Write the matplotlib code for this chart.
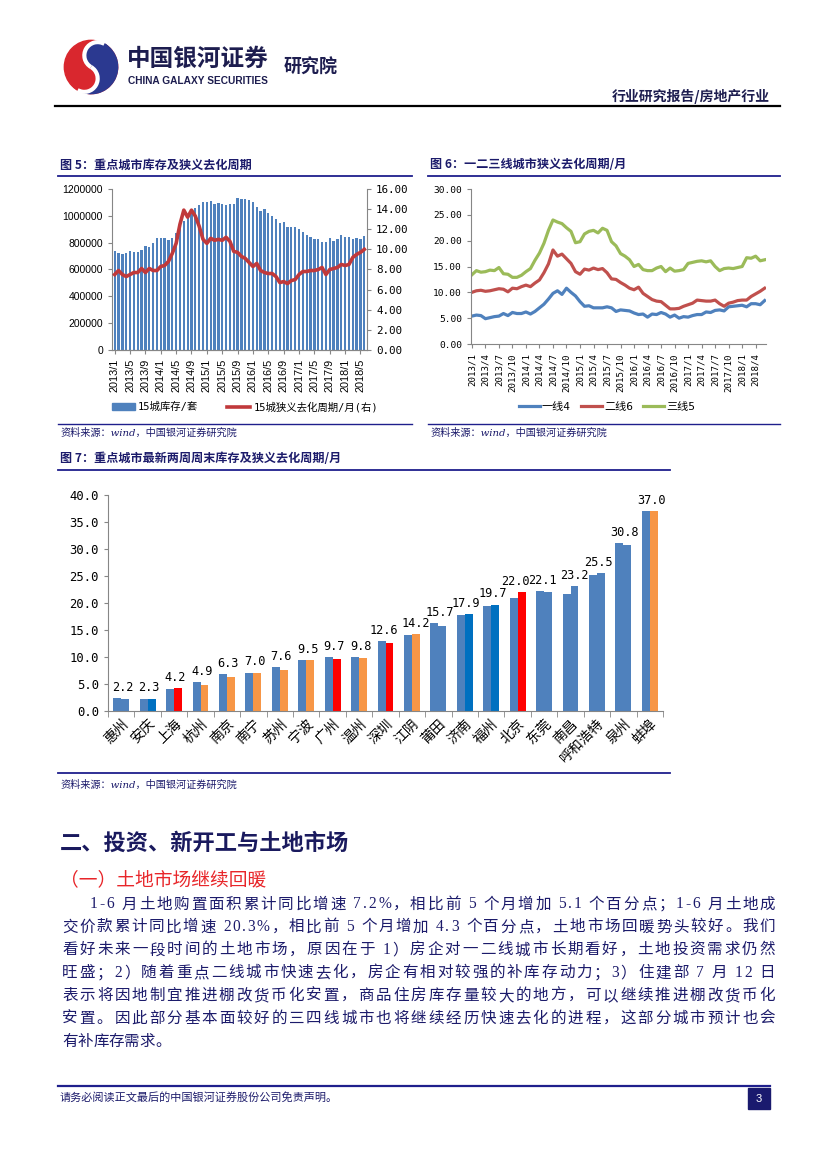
import matplotlib
matplotlib.use('Agg')
import matplotlib.pyplot as plt
from matplotlib.lines import Line2D
from matplotlib.patches import Rectangle, Wedge, Circle, Arc, Patch
from matplotlib.font_manager import FontProperties, findfont, get_font
import numpy as np

W, H = 827, 1169
CJK = 'Noto Sans CJK SC'
MONO = 'DejaVu Sans Mono'
NAVY = '#1c1b6b'
GRAY = '#868686'
BAR_BLUE = '#4f81bd'

# -----------------------------------------
# DATOS
# -----------------------------------------

# fig 5: 15 cities inventory (sets) and narrow destocking cycle (months)
months5 = [f'{y}/{m}' for y in range(2013, 2019) for m in range(1, 13)][:66]
inventory5 = [
    735000, 720000, 712000, 725000, 738000, 730000, 730000, 745000, 775000, 770000, 800000, 835000,
    835000, 835000, 820000, 835000, 870000, 915000, 960000, 1000000, 1040000, 1060000, 1080000, 1100000,
    1105000, 1108000, 1090000, 1095000, 1090000, 1080000, 1088000, 1085000, 1135000, 1128000, 1125000, 1118000,
    1100000, 1065000, 1035000, 1050000, 1020000, 1000000, 975000, 950000, 955000, 915000, 920000, 915000,
    905000, 880000, 855000, 840000, 825000, 825000, 805000, 805000, 835000, 815000, 830000, 855000,
    840000, 840000, 825000, 835000, 825000, 848000,
]
cycle5 = [
    7.5, 7.9, 7.5, 7.3, 7.5, 7.7, 7.7, 8.1, 7.7, 8.1, 7.9, 7.9,
    8.3, 8.4, 8.8, 9.6, 10.6, 12.5, 13.9, 13.2, 13.9, 13.3, 12.3, 11.0,
    10.6, 11.1, 10.9, 11.0, 10.9, 11.2, 10.8, 9.8, 9.7, 9.3, 9.1, 8.7,
    8.3, 8.6, 7.9, 7.7, 7.6, 7.6, 7.3, 6.7, 6.8, 6.6, 6.9, 7.0,
    7.5, 7.8, 7.8, 7.9, 7.9, 8.0, 8.2, 7.5, 8.0, 8.1, 8.2, 8.5,
    8.4, 8.5, 9.2, 9.5, 9.7, 10.0,
]

# fig 6: tier 1 / 2 / 3 cities destocking cycle (months)
months6 = months5
tier1 = [
    5.4, 5.6, 5.5, 4.9, 5.1, 5.3, 5.4, 5.9, 5.5, 6.1, 5.9, 5.9,
    6.2, 5.8, 6.3, 7.0, 7.7, 8.7, 9.8, 10.3, 9.6, 10.8, 10.0, 9.3,
    8.2, 7.3, 7.4, 7.0, 7.0, 7.0, 7.2, 7.0, 6.3, 6.6, 6.5, 6.4,
    6.0, 5.7, 5.8, 5.2, 5.8, 5.7, 6.1, 5.8, 5.2, 5.6, 5.0, 5.3,
    5.2, 5.5, 5.7, 5.7, 6.2, 6.1, 6.5, 6.6, 6.4, 7.2, 7.3, 7.4,
    7.5, 7.2, 7.8, 7.8, 7.6, 8.4,
]
tier2 = [
    10.0, 10.3, 10.4, 10.2, 10.3, 10.5, 10.7, 10.6, 10.1, 10.8, 10.7, 11.1,
    11.4, 11.1, 11.8, 12.4, 13.8, 15.5, 18.2, 17.0, 17.4, 16.5, 15.6, 14.0,
    13.5, 14.5, 14.3, 14.7, 14.4, 14.6, 13.8, 12.6, 12.5, 11.9, 11.4, 10.8,
    10.5, 11.0, 9.8, 9.2, 8.6, 8.3, 8.2, 7.5, 6.8, 6.8, 6.9, 7.3,
    7.6, 7.9, 8.5, 8.4, 8.3, 8.3, 8.5, 7.8, 7.3, 7.9, 8.1, 8.4,
    8.5, 8.5, 9.2, 9.7, 10.2, 10.8,
]
tier3 = [
    13.4, 14.2, 13.9, 14.0, 14.3, 14.2, 14.8, 13.6, 13.5, 12.9, 12.9, 13.3,
    14.0, 14.6, 16.2, 17.6, 19.5, 22.0, 24.0, 23.6, 23.3, 22.5, 21.8, 19.6,
    19.8, 21.3, 21.8, 22.0, 21.5, 22.4, 22.0, 19.8, 19.0, 17.5, 17.0, 16.3,
    15.0, 15.4, 14.4, 14.2, 14.2, 14.7, 15.0, 14.0, 14.7, 14.1, 14.2, 14.4,
    15.6, 15.8, 16.0, 16.1, 15.9, 16.1, 15.0, 14.2, 14.6, 14.7, 14.6, 14.8,
    15.0, 16.7, 16.6, 17.0, 16.1, 16.3,
]
tier_names = ['一线4', '二线6', '三线5']

# fig 7: latest two weekends, destocking cycle (months)
cities = ['惠州', '安庆', '上海', '杭州', '南京', '南宁', '苏州', '宁波', '广州', '温州', '深圳',
          '江阴', '莆田', '济南', '福州', '北京', '东莞', '南昌', '呼和浩特', '泉州', '蚌埠']
prev_week = [2.4, 2.3, 4.1, 5.3, 6.8, 7.1, 8.1, 9.4, 10.0, 10.0, 12.9,
             14.1, 16.3, 17.8, 19.5, 20.9, 22.2, 21.7, 25.2, 31.1, 37.0]
last_week = [2.2, 2.3, 4.2, 4.9, 6.3, 7.0, 7.6, 9.5, 9.7, 9.8, 12.6,
             14.2, 15.7, 17.9, 19.7, 22.0, 22.1, 23.2, 25.5, 30.8, 37.0]
last_colors = [BAR_BLUE, '#0070c0', '#ff0000', '#f79646', '#f79646', '#f79646', '#f79646',
               '#f79646', '#ff0000', '#f79646', '#ff0000', '#f79646', BAR_BLUE, '#0070c0',
               '#0070c0', '#ff0000', BAR_BLUE, BAR_BLUE, BAR_BLUE, BAR_BLUE, '#f79646']

body_lines = [
    '1-6 月土地购置面积累计同比增速 7.2%，相比前 5 个月增加 5.1 个百分点；1-6 月土地成',
    '交价款累计同比增速 20.3%，相比前 5 个月增加 4.3 个百分点，土地市场回暖势头较好。我们',
    '看好未来一段时间的土地市场，原因在于 1）房企对一二线城市长期看好，土地投资需求仍然',
    '旺盛；2）随着重点二线城市快速去化，房企有相对较强的补库存动力；3）住建部 7 月 12 日',
    '表示将因地制宜推进棚改货币化安置，商品住房库存量较大的地方，可以继续推进棚改货币化',
    '安置。因此部分基本面较好的三四线城市也将继续经历快速去化的进程，这部分城市预计也会',
    '有补库存需求。',
]

# -----------------------------------------
# AYUDAS
# -----------------------------------------

fig = plt.figure(figsize=(W / 100, H / 100), dpi=100)


def fx(x):
    return x / W


def fy(y):
    return 1 - y / H


def px_axes(l, t, r, b):
    return fig.add_axes([l / W, 1 - b / H, (r - l) / W, (b - t) / H])


def hline(y, x0, x1, color, lw):
    fig.add_artist(Line2D([fx(x0), fx(x1)], [fy(y), fy(y)], color=color, lw=lw,
                          transform=fig.transFigure))


def ptext(x, y, s, **kw):
    kw.setdefault('va', 'center')
    return fig.text(fx(x), fy(y), s, **kw)


_fonts = {}


def char_family(ch):
    return 'Liberation Serif' if ord(ch) < 128 else CJK


def advance(ch, size):
    fam = char_family(ch)
    if fam not in _fonts:
        _fonts[fam] = get_font(findfont(FontProperties(family=fam)))
    f = _fonts[fam]
    f.set_size(size, 100)
    return f.load_char(ord(ch)).linearHoriAdvance / 65536


def body_line(text, x0, x1, y, size, justify=True):
    adv = [advance(c, size) for c in text]
    gap = (x1 - x0 - sum(adv)) / (len(text) - 1) if justify else 0
    x = x0
    for c, a in zip(text, adv):
        if c != ' ':
            ptext(x, y, c, fontsize=size, family=char_family(c), color=NAVY, ha='left')
        x += a + gap


def style_axis(ax):
    for s in ax.spines.values():
        s.set_color(GRAY)
    ax.spines['top'].set_visible(False)
    ax.tick_params(colors=GRAY, labelcolor='black', length=3, direction='out')


# -----------------------------------------
# CABECERA
# -----------------------------------------

logo = px_axes(63, 39, 119, 95)
logo.set_xlim(-1.05, 1.05)
logo.set_ylim(-1.05, 1.05)
logo.set_aspect('equal')
logo.axis('off')
a = 60
logo.add_patch(Circle((0, 0), 1, color='#d9272e'))
logo.add_patch(Wedge((0, 0), 1, a - 180, a, color='#2b3990'))
px_, py_ = 0.5 * np.cos(np.radians(a)), 0.5 * np.sin(np.radians(a))
logo.add_patch(Circle((px_, py_), 0.5, color='#2b3990'))
logo.add_patch(Circle((-px_, -py_), 0.5, color='#d9272e'))
logo.add_patch(Arc((px_, py_), 1, 1, theta1=a, theta2=a + 180, color='white', lw=3))
logo.add_patch(Arc((-px_, -py_), 1, 1, theta1=a + 180, theta2=a + 360, color='white', lw=3))

ptext(127, 59, '中国银河证券', fontsize=17, family=CJK, weight='bold', color='#1d1d4f')
ptext(128, 81, 'CHINA GALAXY SECURITIES', fontsize=7.3, family='Liberation Sans',
      weight='bold', color='#1d1d4f')
ptext(284, 67, '研究院', fontsize=13, family=CJK, weight='bold', color='#1d1d4f')
ptext(770, 96, '行业研究报告/房地产行业', fontsize=10, family=CJK, weight='bold',
      color='#1d1d4f', ha='right')
hline(106, 55, 780, 'black', 1.6)

# -----------------------------------------
# FIGURA 5
# -----------------------------------------

ptext(60, 165, '图 5：重点城市库存及狭义去化周期', fontsize=8.7, family=CJK, weight='bold', color=NAVY)
hline(176, 58, 412, '#1f1f8c', 1.3)

ax5 = px_axes(112, 189, 367, 350)
x5 = np.arange(len(months5))
ax5.bar(x5, inventory5, width=0.6, color=BAR_BLUE)
ax5.set_xlim(-0.7, len(months5) - 0.3)
ax5.set_ylim(0, 1200000)
ticks5 = np.arange(0, 1200001, 200000)
ax5.set_yticks(ticks5)
ax5.set_yticklabels([str(v) for v in ticks5], fontsize=7.5, family='Liberation Sans')
ax5.set_xticks(x5[::4])
ax5.set_xticklabels(months5[::4], rotation=90, fontsize=7.8, family='Liberation Sans')
style_axis(ax5)
ax5.spines['right'].set_visible(False)

ax5r = ax5.twinx()
ax5r.plot(x5, cycle5, color='#c0393b', lw=2.6)
ax5r.set_ylim(0, 16)
rt = np.arange(0, 17, 2)
ax5r.set_yticks(rt)
ax5r.set_yticklabels([f'{v:.2f}' for v in rt], fontsize=7.8, family=MONO)
style_axis(ax5r)
ax5r.spines['left'].set_visible(False)

h5 = [Patch(color=BAR_BLUE), Line2D([], [], color='#c0393b', lw=2.6)]
ax5.legend(h5, ['15城库存/套', '15城狭义去化周期/月(右)'], loc='center',
           bbox_to_anchor=(fx(245), fy(407)), bbox_transform=fig.transFigure, ncol=2,
           frameon=False, prop=FontProperties(family=[MONO, CJK], size=7.5),
           handlelength=2.2, handleheight=0.6, columnspacing=2.8, handletextpad=0.3)

hline(424, 58, 412, '#1f1f8c', 1.0)
ptext(60, 433, '资料来源：wind，中国银河证券研究院', fontsize=7.3, style='italic',
      family=['DejaVu Serif', CJK], color=NAVY)

# -----------------------------------------
# FIGURA 6
# -----------------------------------------

ptext(430, 165, '图 6：一二三线城市狭义去化周期/月', fontsize=8.7, family=CJK, weight='bold', color=NAVY)
hline(176, 428, 780, '#1f1f8c', 1.3)

ax6 = px_axes(471, 189, 766, 344)
x6 = np.arange(len(months6))
colors6 = ['#4f81bd', '#c0504d', '#9bbb59']
for serie, c in zip([tier1, tier2, tier3], colors6):
    ax6.plot(x6, serie, color=c, lw=2.3)
ax6.set_xlim(-0.2, 65.3)
ax6.set_ylim(0, 30)
yt6 = np.arange(0, 31, 5)
ax6.set_yticks(yt6)
ax6.set_yticklabels([f'{v:.2f}' for v in yt6], fontsize=6.8, family=MONO)
ax6.set_xticks(x6[::3])
ax6.set_xticklabels(months6[::3], rotation=90, fontsize=6.6, family=MONO)
style_axis(ax6)
ax6.spines['right'].set_visible(False)

h6 = [Line2D([], [], color=c, lw=2.3) for c in colors6]
ax6.legend(h6, tier_names, loc='center', bbox_to_anchor=(fx(607), fy(407)),
           bbox_transform=fig.transFigure, ncol=3, frameon=False,
           prop=FontProperties(family=[MONO, CJK], size=8),
           handlelength=1.9, columnspacing=0.9, handletextpad=0.2)

hline(424, 428, 780, '#1f1f8c', 1.0)
ptext(430, 433, '资料来源：wind，中国银河证券研究院', fontsize=7.3, style='italic',
      family=['DejaVu Serif', CJK], color=NAVY)

# -----------------------------------------
# FIGURA 7
# -----------------------------------------

ptext(60, 459, '图 7：重点城市最新两周周末库存及狭义去化周期/月', fontsize=8.7, family=CJK,
      weight='bold', color=NAVY)
hline(470, 58, 670, '#1f1f8c', 1.3)

ax7 = px_axes(108, 495, 663, 711)
x7 = np.arange(len(cities))
w = 0.3
ax7.bar(x7 - w / 2, prev_week, width=w, color=BAR_BLUE)
ax7.bar(x7 + w / 2, last_week, width=w, color=last_colors)
tops = [max(p, v) for p, v in zip(prev_week, last_week)]
for i, v in enumerate(last_week):
    # empujar etiquetas vecinas de 4 cifras que quedarian pegadas
    dx = 1
    if i + 1 < len(tops) and abs(tops[i + 1] - tops[i]) < 1.5 and last_week[i] >= 10:
        dx = -1.5
    elif i > 0 and abs(tops[i] - tops[i - 1]) < 1.5 and last_week[i] >= 10:
        dx = 2.5
    ax7.annotate(f'{v:.1f}', (i, tops[i]), xytext=(dx, 3), textcoords='offset points',
                 ha='center', va='bottom', fontsize=8.6, family=MONO)
ax7.set_xlim(-0.5, len(cities) - 0.5)
ax7.set_ylim(0, 40)
yt7 = np.arange(0, 41, 5)
ax7.set_yticks(yt7)
ax7.set_yticklabels([f'{v:.1f}' for v in yt7], fontsize=8.8, family=MONO)
ax7.set_xticks(x7)
ax7.set_xticklabels(cities, rotation=45, ha='right', rotation_mode='anchor',
                    fontsize=10, family=CJK, weight='medium')
ax7.set_xticks(np.arange(-0.5, len(cities)), minor=True)
style_axis(ax7)
ax7.spines['right'].set_visible(False)
ax7.tick_params(axis='x', which='major', length=0, pad=4)
ax7.tick_params(axis='x', which='minor', length=4, color=GRAY)

hline(773, 58, 670, '#1f1f8c', 1.3)
ptext(60, 785, '资料来源：wind，中国银河证券研究院', fontsize=7.3, style='italic',
      family=['DejaVu Serif', CJK], color=NAVY)

# -----------------------------------------
# TEXTO
# -----------------------------------------

ptext(60, 843, '二、投资、新开工与土地市场', fontsize=16, family=CJK, weight='bold', color='#1a1a5e')
ptext(60, 880, '（一）土地市场继续回暖', fontsize=13.5, family=CJK, color='#e8262a')

for k, line in enumerate(body_lines):
    x0 = 90 if k == 0 else 62
    body_line(line, x0, 775, 904 + k * 22.9, 11.2, justify=(k < len(body_lines) - 1))

# -----------------------------------------
# PIE DE PAGINA
# -----------------------------------------

hline(1086, 58, 770, '#1f1f8c', 1.6)
ptext(60, 1098, '请务必阅读正文最后的中国银河证券股份公司免责声明。', fontsize=8, family=CJK, color=NAVY)
fig.add_artist(Rectangle((fx(748), fy(1109)), 22 / W, 21 / H, color='#1a1a6e',
                         transform=fig.transFigure))
ptext(759, 1098.5, '3', fontsize=8, color='white', ha='center', family='Liberation Sans')

fig.savefig('out.png', dpi=100)
